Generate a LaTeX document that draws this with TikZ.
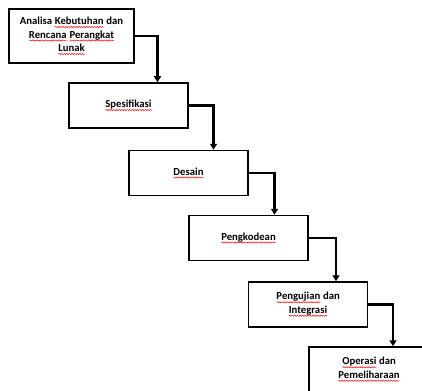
\documentclass[tikz,border=0pt]{standalone}
\usepackage{fontspec}
\setmainfont{Carlito}
\usetikzlibrary{arrows.meta,decorations.pathmorphing}

% red wavy underline, as the picture shows it
\newcommand{\typo}[1]{\tikz[baseline=(w.base)]{\node[draw=none, inner sep=0pt, outer sep=0pt,
		minimum width=0pt, minimum height=0pt] (w) {#1};
	\draw[red, line width=0.5pt, decorate, decoration={snake, amplitude=0.6pt, segment length=2.6pt}]
		([yshift=-2.4pt]w.base west) -- ([yshift=-2.4pt]w.base east);}}

\begin{document}
\begin{tikzpicture}[x=1pt,y=-1pt,
	box/.style={draw, line width=1.5pt, minimum width=119pt, minimum height=45pt,
		align=center, inner sep=2pt, font=\bfseries\fontsize{10.7}{13.5}\selectfont},
	flow/.style={line width=2.2pt, -{Triangle[length=6pt,width=7pt]}}]
	\useasboundingbox (0,0) rectangle (422,390);
	\clip (0,0) rectangle (422,390);
	
	\node[box, minimum width=125pt, minimum height=54pt] (analisa) at (71.5,36)
		{Analisa \typo{Kebutuhan} dan\\\typo{Rencana} \typo{Perangkat}\\\typo{Lunak}};
	\node[box] (spesifikasi) at (128.5,105.5) {\typo{Spesifikasi}};
	\node[box] (desain) at (188.5,173) {\typo{Desain}};
	\node[box] (kode) at (248.5,238) {\typo{Pengkodean}};
	\node[box] (uji) at (308,304.5) {\typo{Pengujian} dan\\\typo{Integrasi}};
	\node[box, minimum width=120pt] (operasi) at (369,369.5) {\typo{Operasi} dan\\\typo{Pemeliharaan}};
	
	\draw[flow] (analisa.east) -| ([xshift=29pt]spesifikasi.north);
	\draw[flow] (spesifikasi.east) -| ([xshift=25pt]desain.north);
	\draw[flow] (desain.east) -| ([xshift=26pt]kode.north);
	\draw[flow] (kode.east) -| ([xshift=28pt]uji.north);
	\draw[flow] (uji.east) -| ([xshift=24pt]operasi.north);
\end{tikzpicture}
\end{document}
